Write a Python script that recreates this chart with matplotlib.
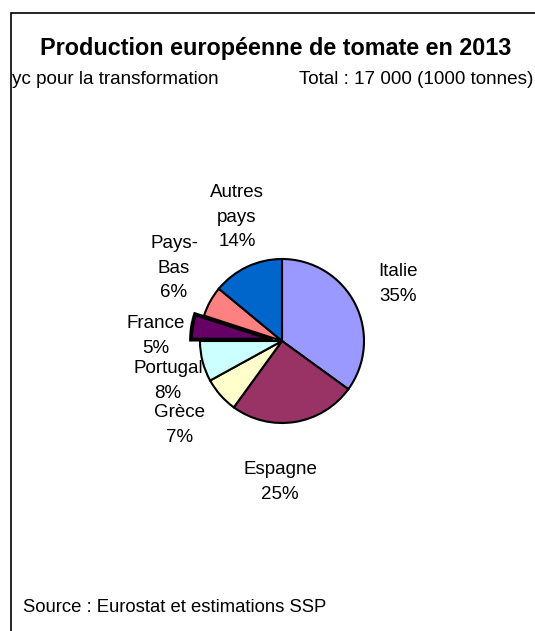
import matplotlib
matplotlib.use("Agg")
import matplotlib.pyplot as plt
from matplotlib.patches import Rectangle

plt.rcParams['font.family'] = ['Liberation Sans', 'DejaVu Sans']

# ---- data ----
pays    = ["Italie", "Espagne", "Grèce", "Portugal", "France", "Pays-\nBas", "Autres\npays"]
parts   = [35, 25, 7, 8, 5, 6, 14]
couleurs = ["#9999FF", "#993366", "#FFFFCC", "#CCFFFF", "#660066", "#FF8080", "#0066CC"]
eclate  = [0, 0, 0, 0, 0.11, 0, 0]
# label centres (data units, pie radius = 1)
pos_lbl = [(1.415, 0.695), (-0.024, -1.72), (-1.244, -1.024), (-1.39, -0.488),
           (-1.537, 0.061), (-1.317, 0.89), (-0.549, 1.512)]

W, H = 535, 631
fig = plt.figure(figsize=(W/100, H/100), dpi=100)
fig.patch.set_facecolor("white")

# frame
fig.add_artist(Rectangle((11/W, -0.05), 1.0, (H-13)/H + 0.05, transform=fig.transFigure,
                         fill=False, edgecolor="black", lw=1.2))

# pie axes: centre (282,341) px, radius 82 px, limits +-2
cx, cy, r = 282, 341, 82
ax = fig.add_axes([(cx-2*r)/W, (H-cy-2*r)/H, 4*r/W, 4*r/H])

wedges, _ = ax.pie(parts, colors=couleurs, explode=eclate, startangle=90, counterclock=False,
                   radius=1, center=(0, 0), frame=True,
                   wedgeprops=dict(edgecolor="black", linewidth=1.5))
wedges[pays.index("France")].set_linewidth(2.8)
ax.set_xlim(-2, 2); ax.set_ylim(-2, 2)
ax.set_aspect("equal")
ax.axis("off")

for nom, p, (x, y) in zip(pays, parts, pos_lbl):
    ax.text(x, y, f"{nom}\n{p}%", ha="center", va="center", fontsize=13.5,
            linespacing=1.55, multialignment="center")

fig.text(276/W, 1-48/H, "Production européenne de tomate en 2013", ha="center", va="center",
         fontsize=16.8, fontweight="bold")
fig.text(12/W, 1-79/H, "yc pour la transformation", ha="left", va="center", fontsize=13.6)
fig.text(533/W, 1-79/H, "Total : 17 000 (1000 tonnes)", ha="right", va="center", fontsize=13.6)
fig.text(23/W, 1-608/H, "Source : Eurostat et estimations SSP", ha="left", va="center", fontsize=13.3)

fig.savefig("out.png", dpi=100)
